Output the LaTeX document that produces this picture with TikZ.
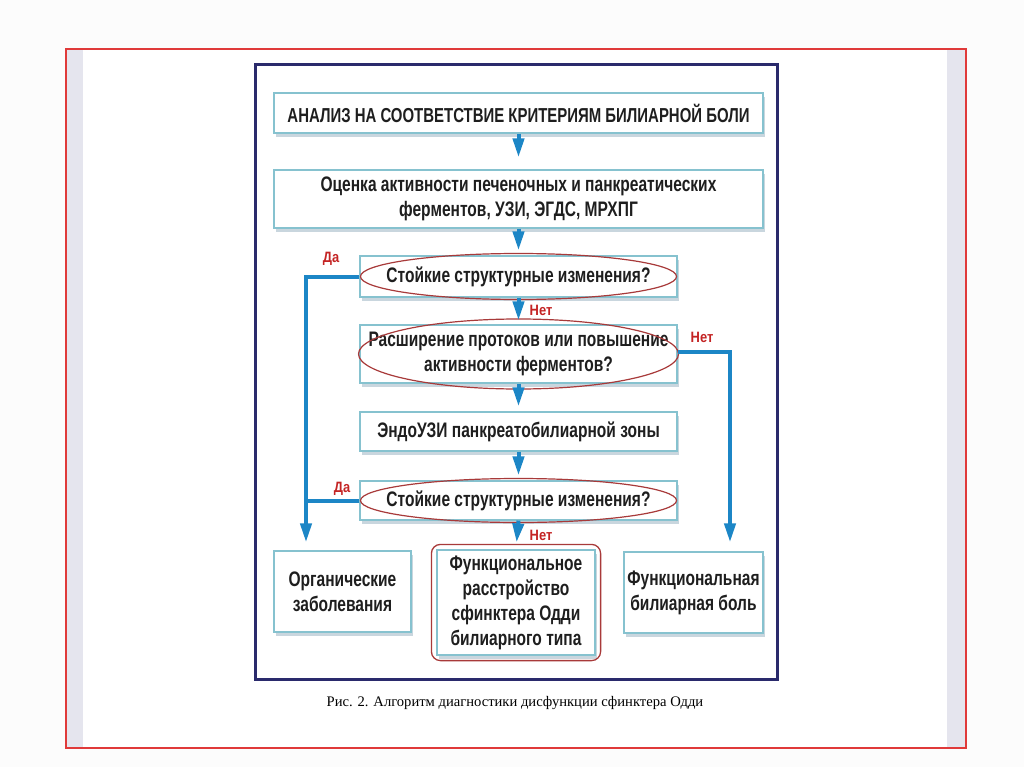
\documentclass[tikz,border=0pt]{standalone}
\usepackage{fontspec}
\setmainfont{Liberation Serif}
\newfontfamily\dfont[FakeStretch=0.74]{Liberation Sans}
\newfontfamily\lfont[FakeStretch=0.86]{Liberation Sans}
\usetikzlibrary{arrows.meta,shadows,calc}
\definecolor{boxline}{HTML}{86C2CF}
\definecolor{boxshadow}{HTML}{C9D6DE}
\definecolor{arrowblue}{HTML}{1C86C6}
\definecolor{ellred}{HTML}{A83A3A}
\definecolor{labred}{HTML}{C42424}
\definecolor{navyframe}{HTML}{2A2A6C}
\definecolor{pagered}{HTML}{E03A3A}
\definecolor{strip}{HTML}{E5E5EE}
\definecolor{textdark}{HTML}{1E1E1E}
\tikzset{
  box/.style={draw=boxline, line width=1.2pt, fill=white, align=center,
    font=\dfont\bfseries\fontsize{21}{25}\selectfont, text=textdark, inner sep=2pt,
    drop shadow={shadow xshift=2pt, shadow yshift=-4pt, fill=boxshadow, opacity=1}},
  arr/.style={draw=arrowblue, line width=4pt, -{Triangle[length=19pt,width=11pt]}},
  flow/.style={draw=arrowblue, line width=4pt},
  ell/.style={draw=ellred, line width=1.2pt},
  lab/.style={font=\lfont\bfseries\fontsize{15}{17}\selectfont, text=labred, inner sep=0pt},
}
\begin{document}
\begin{tikzpicture}[x=1pt,y=-1pt]
\useasboundingbox (0,0) rectangle (1024,767);
\fill[white!98!gray] (0,0) rectangle (1024,767);
\fill[white] (66,49) rectangle (966,748);
\fill[strip] (67,49) rectangle (83,748);
\fill[strip] (947,49) rectangle (965,748);
\draw[pagered, line width=1.3pt] (66,49) rectangle (966,748);
% diagram frame
\fill[white] (255,65) rectangle (777,679);
\draw[navyframe, line width=3pt] (255,65) rectangle (777,679);
% boxes
\node[box, minimum width=489pt, minimum height=40pt, font=\dfont\bfseries\fontsize{20.2}{25}\selectfont] (b1) at (518.5,113) {АНАЛИЗ НА СООТВЕТСТВИЕ КРИТЕРИЯМ БИЛИАРНОЙ БОЛИ};
\node[box, minimum width=489pt, minimum height=58pt] (b2) at (518.5,199) {Оценка активности печеночных и панкреатических\\ферментов, УЗИ, ЭГДС, МРХПГ};
\node[box, minimum width=317pt, minimum height=41pt] (b3) at (518.5,276.5) {Стойкие структурные изменения?};
\node[box, minimum width=317pt, minimum height=58pt] (b4) at (518.5,354) {Расширение протоков или повышение\\активности ферментов?};
\node[box, minimum width=317pt, minimum height=39pt] (b5) at (518.5,431.5) {ЭндоУЗИ панкреатобилиарной зоны};
\node[box, minimum width=317pt, minimum height=39pt] (b6) at (518.5,500.5) {Стойкие структурные изменения?};
\node[box, minimum width=137pt, minimum height=81pt] (b7) at (342.5,591.5) {Органические\\заболевания};
\node[box, minimum width=158pt, minimum height=105pt] (b8) at (516,602.5) {Функциональное\\расстройство\\сфинктера Одди\\билиарного типа};
\node[box, minimum width=139pt, minimum height=81pt] (b9) at (693.5,592.5) {Функциональная\\билиарная боль};
\draw[ellred, line width=1.3pt, rounded corners=9pt] ([shift={(-5pt,5pt)}]b8.north west) rectangle ([shift={(5pt,-5pt)}]b8.south east);
% ellipses
\draw[ell] (b3.center) ellipse [x radius=158pt, y radius=23pt];
\draw[ell] (b4.center) ellipse [x radius=160pt, y radius=35pt];
\draw[ell] (b6.center) ellipse [x radius=158pt, y radius=22pt];
% main arrows
\draw[arr, shorten >=12pt] (b1.south) -- (b2.north);
\draw[arr, shorten >=5pt] (b2.south) -- (b3.north);
\draw[arr, shorten >=4pt] (b3.south) -- (b4.north);
\draw[arr, shorten >=5pt] (b4.south) -- (b5.north);
\draw[arr, shorten >=5pt] (b5.south) -- (b6.north);
\draw[arr, shorten >=7pt] (b6.south) -- (b8.north);
% side branches
\coordinate (L) at (306,276.5);
\coordinate (R) at (730,352);
\draw[arr, shorten >=8pt] (b3.west) -- (L) -- (L |- b7.north);
\draw[flow] (b6.west) -- (b6.west -| L);
\draw[arr, shorten >=9pt] (b4.east |- R) -- (R) -- (R |- b9.north);
% labels
\node[lab] (l1) at (331,259) {Да};
\node[lab] (l2) at (541,310) {Нет};
\node[lab] (l3) at (702,337) {Нет};
\node[lab] (l4) at (342,489) {Да};
\node[lab] (l5) at (541,535) {Нет};
% caption
\node[font=\fontsize{14.6}{18}\selectfont, text=black] (cap) at (515,703) {Рис. 2. Алгоритм диагностики дисфункции сфинктера Одди};
\end{tikzpicture}
\end{document}
